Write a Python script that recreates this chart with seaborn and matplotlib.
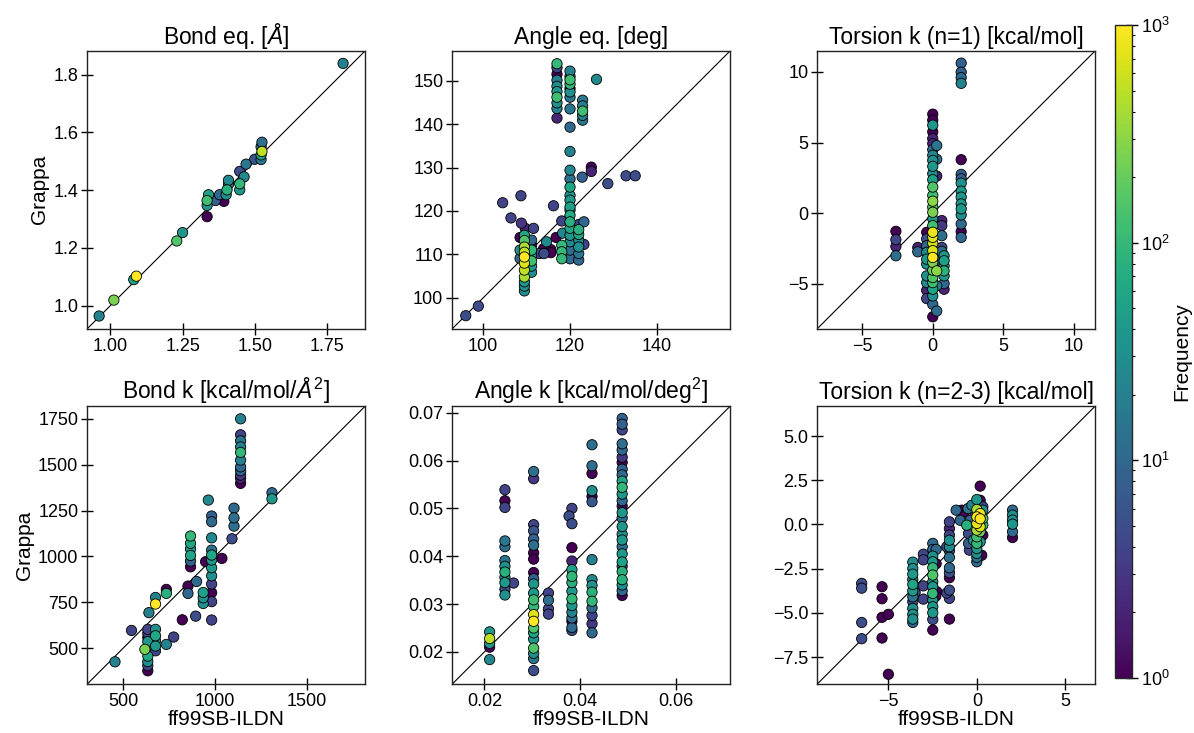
import numpy as np
import pandas as pd
import matplotlib
matplotlib.use("Agg")
import matplotlib.pyplot as plt
import seaborn as sns
from matplotlib.colors import LogNorm
from matplotlib.ticker import MultipleLocator
import matplotlib.cm as cm

# ---------------- data ----------------
titles = ["Bond eq. [$Å$]", "Angle eq. [deg]", "Torsion k (n=1) [kcal/mol]",
          "Bond k [kcal/mol/$Å^2$]", "Angle k [kcal/mol/deg$^2$]", "Torsion k (n=2-3) [kcal/mol]"]
xlabel = "ff99SB-ILDN"
ylabel = "Grappa"
cbar_label = "Frequency"

# Bond eq
bond_eq_x = [0.961,1.012,1.081,1.090,1.230,1.250,1.335,1.335,1.335,1.340,1.364,1.378,1.393,1.401,1.404,1.409,1.409,1.448,1.448,1.448,1.463,1.470,1.500,1.522,1.522,1.522,1.525,1.525,1.806]
bond_eq_y = [0.964,1.019,1.090,1.102,1.224,1.253,1.308,1.347,1.364,1.384,1.364,1.384,1.361,1.384,1.401,1.420,1.434,1.401,1.422,1.465,1.446,1.490,1.507,1.506,1.522,1.550,1.566,1.534,1.839]
bond_eq_f = [20,250,50,1000,150,40,1,40,120,50,8,10,1,30,80,15,25,40,100,5,25,15,6,15,50,10,12,500,20]

# Angle eq
angle_eq_x = [96.0,98.9,104.5,106.4,108.7,108.8,109.7,111.6,108.5,108.5,108.5,
              109.5,109.5,109.5,109.5,109.5,109.5,109.5,109.5,109.5,109.5,109.5,
              111.15,111.15,111.15,111.15,111.15,111.15,111.15,
              110.3,112.9,114.0,113.9,115.6,115.6,114.6,116.2,116.8,118.1,118.3,118.1,118.1,118.1,
              117.0,117.0,117.0,117.0,117.0,117.0,117.0,117.0,117.0,117.0,
              120.0,120.0,120.0,120.0,120.0,120.0,120.0,120.0,120.0,120.0,120.0,120.0,
              120.0,120.0,120.0,120.0,120.0,120.0,120.0,120.0,120.0,120.0,120.0,120.0,
              122.0,122.0,122.0,122.0,122.0,122.0,122.0,
              122.9,122.9,122.9,122.9,122.9,
              122.8,123.2,123.2,124.9,124.9,126.1,128.7,132.9,135.0]
angle_eq_y = [95.9,98.1,121.9,118.4,123.5,117.2,116.0,116.0,113.9,111.0,109.1,
              101.6,102.7,103.7,104.8,106.4,108.0,109.4,110.5,111.7,113.2,114.4,
              105.9,107.3,108.5,109.8,111.0,112.1,113.3,
              111.6,110.2,110.2,111.3,111.1,110.4,112.9,121.2,113.9,117.7,114.9,112.1,110.6,109.0,
              153.9,153.0,151.5,150.1,148.7,147.5,146.2,144.9,143.6,141.4,
              152.2,151.0,150.2,149.2,148.2,147.4,146.2,143.5,139.3,133.7,129.4,127.4,
              125.5,123.6,122.5,120.9,120.2,119.0,117.5,116.0,114.4,112.9,111.0,109.0,
              116.9,115.7,114.6,113.3,111.7,110.2,108.7,
              145.5,144.2,143.0,142.0,140.9,
              127.8,117.5,112.3,130.1,129.1,150.3,126.3,128.1,128.1]
angle_eq_f = [5,5,4,4,4,3,2,4,1,30,10,
              30,30,40,400,500,700,1000,500,400,150,60,
              30,40,120,40,100,1,10,
              1,5,5,1,1,1,25,4,1,4,25,100,100,100,
              100,4,1,20,30,40,120,30,20,2,
              20,10,120,100,1,30,15,15,10,20,25,12,
              60,40,40,50,40,70,80,60,40,25,12,10,
              4,80,60,25,30,15,10,
              15,20,120,20,15,
              8,10,4,1,2,25,5,5,5]

# Torsion k n=1
tors1_x = [0.0]*32 + [-0.43]*10 + [0.28]*7 + [0.64]*5 + [0.8]*7 + [-2.61]*4 + [-1.06]*2 + [2.01]*16
tors1_y = [7.01,6.59,6.23,5.76,5.28,4.93,4.50,4.10,3.74,3.32,2.80,2.37,1.85,1.26,0.85,0.43,0.07,-0.40,-0.88,-1.35,-1.71,-2.13,-2.65,-3.13,-3.48,-4.03,-4.55,-4.91,-5.38,-5.85,-6.45,-7.33,
           -1.35,-1.82,-2.30,-2.77,-3.25,-3.60,-4.43,-4.91,-5.45,-6.04,
           4.79,3.82,2.63,-3.36,-4.08,-5.14,-6.92,
           -0.52,-0.88,-1.59,-2.42,-2.70,
           -3.01,-3.36,-3.72,-4.08,-4.43,-4.98,-5.38,
           -1.28,-1.87,-2.35,-3.01,
           -2.42,-2.73,
           10.62,9.98,9.60,9.19,3.79,2.75,2.44,2.13,1.56,1.14,0.66,0.31,-0.12,-0.76,-1.30,-1.71]
tors1_f = [1,1,40,1,2,2,10,25,30,40,30,50,150,120,300,150,250,40,120,800,700,600,700,1000,250,200,150,120,60,30,10,1,
           1,6,10,25,40,30,30,25,2,4,
           15,12,2,3,300,20,12,
           2,3,12,4,12,
           40,50,40,80,40,10,2,
           1,4,2,12,
           2,10,
           8,8,10,20,1,8,8,30,40,40,40,40,30,10,1,10]

# Bond k
bond_k_x = [455,545,634,634,634,634,634,634,634,634,618,640,
            676,676,676,676,676,676,676,735,735,735,775,822,853,853,
            867,867,867,867,867,867,895,900,936,936,936,949,964,
            982,982,982,982,982,982,982,982,982,982,982,982,
            1038,1093,1104,1104,1104,
            1140,1140,1140,1140,1140,1140,1140,1140,1140,1140,1140,1311,1311]
bond_k_y = [425,596,376,404,426,456,535,558,580,602,493,693,
            485,511,540,567,602,740,776,820,798,520,560,654,798,838,
            943,974,1005,1040,1071,1111,674,863,743,774,803,971,1307,
            653,753,802,849,894,938,980,1007,1034,1101,1189,1220,
            989,1096,1165,1210,1263,
            1398,1425,1443,1467,1488,1525,1567,1597,1630,1663,1750,1347,1314]
bond_k_f = [20,4,1,4,30,60,40,1,4,4,250,20,
            4,40,30,60,30,1000,20,1,80,20,4,1,10,1,
            1,8,60,40,60,100,5,10,30,30,50,1,25,
            4,4,1,4,30,40,40,60,12,25,10,8,
            1,5,12,12,10,
            1,2,3,10,10,20,100,20,15,4,20,10,40]

# Angle k
angle_k_x = [0.0211]*5 + [0.0243]*12 + [0.0261] + [0.0303]*23 + [0.0334]*4 + [0.0377] + [0.0383]*15 + [0.0425]*15 + [0.0488]*28
angle_k_y = [0.0242,0.0228,0.0218,0.0210,0.0184,
             0.0539,0.0516,0.0502,0.0432,0.0420,0.0391,0.0379,0.0367,0.0356,0.0345,0.0331,0.0319,
             0.0344,
             0.0577,0.0562,0.0466,0.0453,0.0436,0.0423,0.0407,0.0394,0.0366,0.0353,0.0342,0.0323,0.0309,0.0295,0.0278,0.0264,0.0250,0.0240,0.0227,0.0208,0.0197,0.0186,0.0161,
             0.0323,0.0308,0.0290,0.0279,
             0.0484,
             0.0500,0.0468,0.0418,0.0390,0.0372,0.0358,0.0345,0.0327,0.0311,0.0297,0.0283,0.0271,0.0264,0.0251,0.0245,
             0.0633,0.0589,0.0573,0.0537,0.0525,0.0514,0.0393,0.0351,0.0339,0.0325,0.0306,0.0292,0.0276,0.0259,0.0240,
             0.0688,0.0676,0.0664,0.0635,0.0622,0.0607,0.0596,0.0582,0.0570,0.0557,0.0544,0.0530,0.0516,0.0505,0.0491,0.0480,0.0462,0.0446,0.0434,0.0420,0.0405,0.0388,0.0379,0.0368,0.0351,0.0340,0.0328,0.0318]
angle_k_f = [40,500,40,1,25,
             4,1,4,15,12,15,30,80,30,40,5,30,
             4,
             12,3,4,6,8,12,1,1,1,8,40,40,120,100,700,1000,150,60,40,150,30,15,5,
             4,12,4,4,
             5,
             4,5,1,2,50,100,80,40,100,40,20,12,1,10,6,
             12,12,1,30,1,6,20,25,30,80,100,10,4,3,10,
             8,8,4,12,10,3,1,8,10,60,100,40,10,1,40,12,40,30,40,12,40,50,5,80,80,30,10,1]

# Torsion k n=2-3
tors23_x = ([-6.51]*4 + [-5.36]*4 + [-5.0,-5.0] + [-3.62]*12 + [-3.49] + [-3.02]*4 + [-2.49]*14 +
            [-2.30,-2.30,-2.26,-2.32] + [-1.55]*13 + [-1.70,-1.70] +
            [-1.17,-0.85,-0.94,-0.75,-0.57,-0.38,-0.47,-0.47,-0.42,-0.19,-0.28,-0.50,-0.10] +
            [0.0]*11 + [0.19]*7 + [0.34]*5 + [0.28] + [2.02]*6)
tors23_y = ([-3.33,-3.60,-5.54,-6.46] + [-3.52,-4.20,-5.25,-6.42] + [-5.08,-8.47] +
            [-2.13,-2.49,-2.81,-3.11,-3.39,-3.75,-4.09,-4.37,-4.75,-5.08,-5.35,-5.54] + [-3.84] +
            [-1.68,-2.00,-3.47,-4.22] +
            [-1.07,-1.41,-1.79,-2.11,-2.45,-2.86,-3.24,-3.52,-3.90,-4.27,-4.65,-4.99,-5.37,-5.97] +
            [-1.41,-2.22,-3.80,-4.05] +
            [0.15,-0.23,-0.60,-0.89,-1.26,-1.49,-1.86,-2.45,-2.73,-3.01,-3.71,-4.18,-5.35] + [-1.26,-3.88] +
            [0.81,0.81,0.24,0.53,-0.04,0.24,-0.51,-1.07,-1.45,-0.89,1.09,0.90,0.60] +
            [1.41,0.85,0.43,0.06,-0.32,-0.70,-1.07,-1.36,-1.64,-1.86,-2.11] +
            [2.17,1.37,0.62,0.32,-0.13,-0.41,-0.98] +
            [0.81,0.34,-0.04,-0.60,1.00] + [-1.74] +
            [0.81,0.53,0.25,0.02,-0.41,-0.74])
tors23_f = ([5,5,5,5] + [1,1,1,1] + [1,1] +
            [30,30,40,30,60,40,15,5,30,30,30,10] + [5] +
            [4,4,4,4] +
            [10,10,30,40,100,150,40,40,100,40,40,40,5,1] +
            [10,1,1,1] +
            [4,2,4,30,25,5,12,10,5,1,5,4,1] + [5,4] +
            [10,1,10,1,80,10,5,8,4,30,20,15,4] +
            [40,400,1000,800,400,120,100,40,30,15,10] +
            [1,1,900,1000,700,200,40] +
            [30,150,120,1,5] + [1] +
            [10,30,30,40,10,1])

panels = [
    (bond_eq_x, bond_eq_y, bond_eq_f, (0.92, 1.883), 0.25, 0.2),
    (angle_eq_x, angle_eq_y, angle_eq_f, (92.9, 156.9), 20, 10),
    (tors1_x, tors1_y, tors1_f, (-8.17, 11.5), 5, 5),
    (bond_k_x, bond_k_y, bond_k_f, (304, 1820), 500, 250),
    (angle_k_x, angle_k_y, angle_k_f, (0.0133, 0.0714), 0.02, 0.01),
    (tors23_x, tors23_y, tors23_f, (-9.02, 6.70), 5, 2.5),
]

# ---------------- style ----------------
sns.set_style("white")
plt.rcParams['font.family'] = ['Liberation Sans', 'DejaVu Sans']
plt.rcParams['mathtext.fontset'] = 'custom'
plt.rcParams['mathtext.rm'] = 'Liberation Sans'
plt.rcParams['mathtext.it'] = 'Liberation Sans:italic'
plt.rcParams['mathtext.bf'] = 'Liberation Sans:bold'
plt.rcParams['text.color'] = 'black'
plt.rcParams['axes.labelcolor'] = 'black'
plt.rcParams['xtick.color'] = 'black'
plt.rcParams['ytick.color'] = 'black'

fig = plt.figure(figsize=(11.94, 7.33), dpi=100)
W, H = 1194, 733
lefts = [87.3, 452.3, 817.3]
tops = [50.7, 406.0]
size = 278.0

norm = LogNorm(vmin=1, vmax=1000)

for i, (x, y, f, lims, xt, yt) in enumerate(panels):
    r, c = divmod(i, 3)
    ax = fig.add_axes([lefts[c] / W, (H - tops[r] - size) / H, size / W, size / H])
    df = pd.DataFrame({"x": x, "y": y, "f": f}).sort_values("f", kind="stable")
    sns.scatterplot(data=df, x="x", y="y", hue="f", hue_norm=norm, palette="viridis",
                    s=55, edgecolor="black", linewidth=0.6, legend=False, ax=ax, zorder=3)
    ax.plot(lims, lims, color="black", lw=0.8, zorder=2)
    ax.set_xlim(lims)
    ax.set_ylim(lims)
    ax.xaxis.set_major_locator(MultipleLocator(xt))
    ax.yaxis.set_major_locator(MultipleLocator(yt))
    ax.tick_params(direction="inout", length=9, width=1, labelsize=13, colors="black",
                   bottom=True, left=True, pad=2)
    for sp in ax.spines.values():
        sp.set_color("#222222")
        sp.set_linewidth(1.0)
    ax.set_title(titles[i], fontsize=16.5, pad=5, color="black")
    ax.set_xlabel(xlabel if r == 1 else "", fontsize=15, labelpad=0)
    ax.set_ylabel(ylabel if c == 0 else "", fontsize=15, labelpad=3)

cax = fig.add_axes([1114.7 / W, (H - 678) / H, 17 / W, (678 - 25) / H])
sm = cm.ScalarMappable(norm=norm, cmap="viridis")
cb = fig.colorbar(sm, cax=cax)
cb.set_label(cbar_label, fontsize=15, labelpad=2)
cax.tick_params(which="major", direction="inout", length=9, width=1, labelsize=13, pad=2)
cax.tick_params(which="minor", direction="inout", length=5, width=0.8)
cb.outline.set_linewidth(1.0)

fig.savefig("out.png", dpi=100)
